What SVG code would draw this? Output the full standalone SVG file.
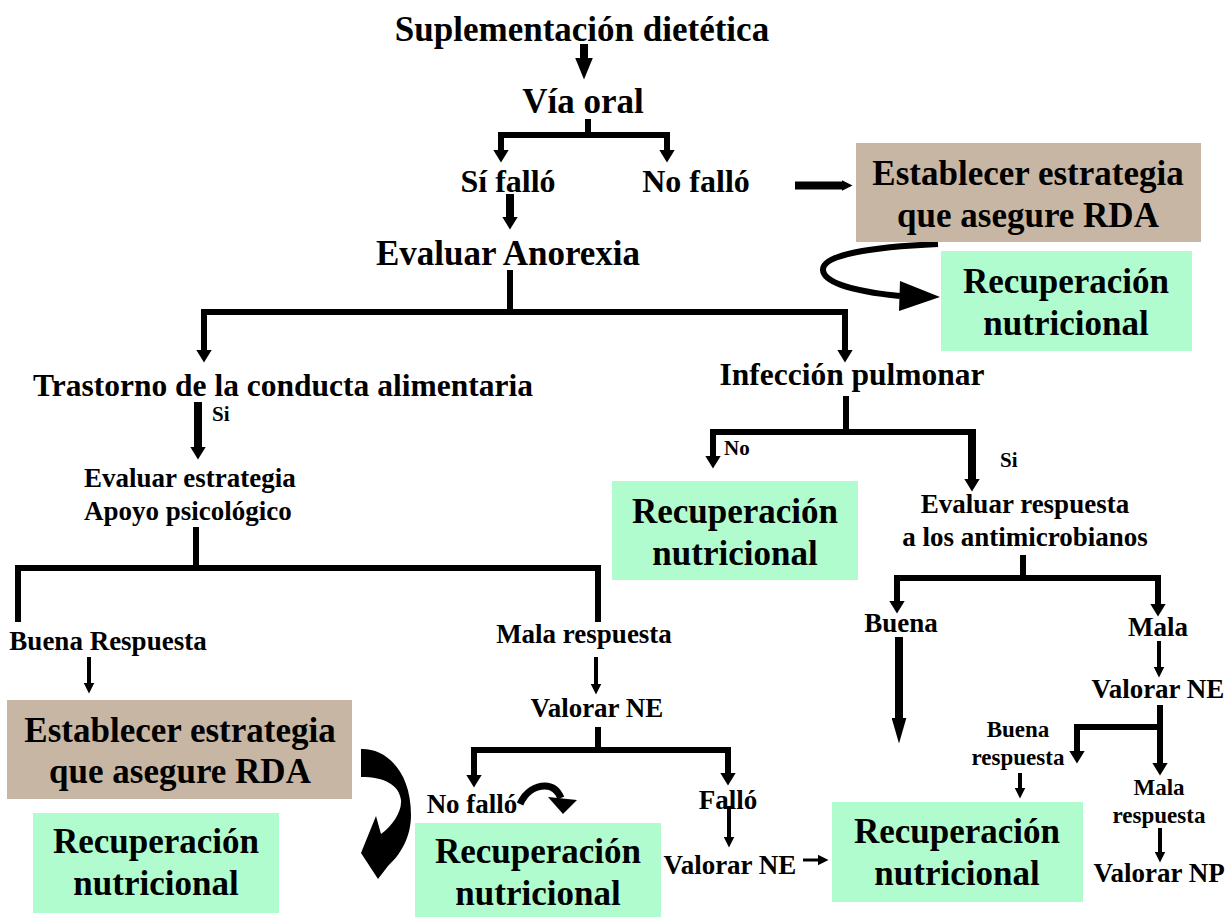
<svg xmlns="http://www.w3.org/2000/svg" width="1229" height="918" viewBox="0 0 1229 918">
<style>
text{font-family:"Liberation Serif","Times New Roman",serif;font-weight:bold;fill:#000;text-anchor:middle}
.t35{font-size:35px}.t32{font-size:32px}.t31{font-size:31.5px}.t27{font-size:27px}.t23{font-size:23px}.t21{font-size:21px}
.st{text-anchor:start}
.brown{fill:#C8B6A4}.green{fill:#B0FCCE}
.c{stroke:#000;fill:none;stroke-linecap:butt;stroke-linejoin:miter}
.w8{stroke-width:8}.w6{stroke-width:6}.w4{stroke-width:4}.w3{stroke-width:3}
</style>
<defs>
<marker id="big" markerUnits="userSpaceOnUse" markerWidth="22" markerHeight="18" refX="0.5" refY="9" orient="auto"><path d="M0,0 L22,9 L0,18 Z" fill="#000"/></marker>
<marker id="long" markerUnits="userSpaceOnUse" markerWidth="26" markerHeight="15" refX="0.5" refY="7.5" orient="auto"><path d="M0,0 L26,7.5 L0,15 Z" fill="#000"/></marker>
<marker id="med" markerUnits="userSpaceOnUse" markerWidth="13" markerHeight="16" refX="0.5" refY="8" orient="auto"><path d="M0,0 L13,8 L0,16 Z" fill="#000"/></marker>
<marker id="sm" markerUnits="userSpaceOnUse" markerWidth="11" markerHeight="11" refX="0.5" refY="5.5" orient="auto"><path d="M0,0 L11,5.5 L0,11 Z" fill="#000"/></marker>
</defs>

<g id="connectors">
<path class="c w8" d="M584,44 V58" marker-end="url(#big)"/>
<path class="c w6" d="M588,119 V135"/>
<path class="c w6" d="M501,150 V135 H667 V150" marker-end="url(#med)"/>
<path class="c w6" d="M501,138 V150" marker-end="url(#med)"/>
<path class="c w8" d="M510,194 V217" marker-end="url(#med)"/>
<path class="c w8" d="M795,185.5 H842" marker-end="url(#sm)"/>
<path class="c w6" d="M938,244 C870,247 822,255 823,270 C824,286 870,293 900,296"/>
<polygon points="900,281 940,297 899,311" fill="#000"/>
<path class="c w6" d="M510,270 V312"/>
<path class="c w6" d="M204,350 V312 H845 V350" marker-end="url(#med)"/>
<path class="c w6" d="M204,320 V350" marker-end="url(#med)"/>
<path class="c w8" d="M198,402 V447" marker-end="url(#med)"/>
<path class="c w6" d="M196,527 V568"/>
<path class="c w6" d="M18,622 V568 H598 V622"/>
<path class="c w4" d="M89,657 V683" marker-end="url(#sm)"/>
<path class="c w4" d="M596,657 V684" marker-end="url(#sm)"/>
<path class="c w6" d="M598,727 V750"/>
<path class="c w6" d="M474,775 V750 H728 V773" marker-end="url(#med)"/>
<path class="c w6" d="M474,760 V775" marker-end="url(#med)"/>
<path class="c w4" d="M729,806 V837" marker-end="url(#sm)"/>
<path class="c w3" d="M803,860 H818" marker-end="url(#sm)"/>
<path d="M361,749 C385,748 411,770 411,815 C411,838 400,855 388,866 L378,879 L361,853 L376,816 L381,834 C392,826 402,812 401,800 C399,785 385,777 361,777 Z" fill="#000"/>
<path class="c" stroke-width="7" d="M520,804 C526,791 536,786 545,786 C553,786 558,791 561,798"/>
<polygon points="548,797 577,800 563,814" fill="#000"/>
<path class="c w6" d="M846,396 V432"/>
<path class="c w6" d="M713,456 V432 H972"/>
<path class="c w6" d="M713,440 V456" marker-end="url(#med)"/>
<path class="c w8" d="M972,429 V479" marker-end="url(#med)"/>
<path class="c w6" d="M1023,555 V578"/>
<path class="c w6" d="M897,601 V578 H1158 V604" marker-end="url(#med)"/>
<path class="c w6" d="M897,590 V601" marker-end="url(#med)"/>
<path class="c w8" d="M899,637 V718" marker-end="url(#long)"/>
<path class="c w4" d="M1159,641 V667" marker-end="url(#sm)"/>
<path class="c w6" d="M1160,705 V763" marker-end="url(#med)"/>
<path class="c w6" d="M1077,751 V727 H1160"/>
<path class="c w6" d="M1077,740 V751" marker-end="url(#med)"/>
<path class="c w4" d="M1020,773 V788" marker-end="url(#sm)"/>
<path class="c w4" d="M1160,828 V852" marker-end="url(#sm)"/>
</g>

<g id="n-suplementacion"><text class="t35" x="582" y="41">Suplementación dietética</text></g>
<g id="n-via-oral"><text class="t35" x="583" y="113">Vía oral</text></g>
<g id="n-si-fallo"><text class="t32" x="508" y="192">Sí falló</text></g>
<g id="n-no-fallo"><text class="t32" x="696" y="192">No falló</text></g>
<g id="n-establecer-1"><rect class="brown" x="856" y="143" width="345" height="99"/><text class="t35" x="1028" y="185">Establecer estrategia</text><text class="t35" x="1028" y="227">que asegure RDA</text></g>
<g id="n-recuperacion-1"><rect class="green" x="941" y="251" width="251" height="100"/><text class="t35" x="1066" y="293">Recuperación</text><text class="t35" x="1066" y="335">nutricional</text></g>
<g id="n-anorexia"><text class="t35" x="508" y="265">Evaluar Anorexia</text></g>
<g id="n-trastorno"><text class="t31" x="283" y="396">Trastorno de la conducta alimentaria</text><text class="t21 st" x="212" y="421">Si</text></g>
<g id="n-evaluar-estrategia"><text class="t27 st" x="84" y="487">Evaluar estrategia</text><text class="t27 st" x="84" y="520">Apoyo psicológico</text></g>
<g id="n-buena-respuesta"><text class="t27" x="108" y="650">Buena Respuesta</text></g>
<g id="n-mala-respuesta"><text class="t27" x="584" y="643">Mala respuesta</text></g>
<g id="n-establecer-2"><rect class="brown" x="7" y="700" width="345" height="99"/><text class="t35" x="180" y="742">Establecer estrategia</text><text class="t35" x="180" y="783">que asegure RDA</text></g>
<g id="n-recuperacion-2"><rect class="green" x="33" y="813" width="246" height="100"/><text class="t35" x="156" y="853">Recuperación</text><text class="t35" x="156" y="895">nutricional</text></g>
<g id="n-valorar-ne-1"><text class="t27" x="597" y="717">Valorar NE</text></g>
<g id="n-no-fallo-2"><text class="t27" x="472" y="813">No falló</text></g>
<g id="n-fallo"><text class="t27" x="728" y="809">Falló</text></g>
<g id="n-recuperacion-3"><rect class="green" x="415" y="823" width="246" height="94"/><text class="t35" x="538" y="863">Recuperación</text><text class="t35" x="538" y="905">nutricional</text></g>
<g id="n-valorar-ne-2"><text class="t27" x="730" y="874">Valorar NE</text></g>
<g id="n-infeccion"><text class="t31" x="852" y="385">Infección pulmonar</text><text class="t21 st" x="724" y="455">No</text><text class="t21 st" x="1000" y="467">Si</text></g>
<g id="n-recuperacion-4"><rect class="green" x="612" y="481" width="246" height="99"/><text class="t35" x="735" y="523">Recuperación</text><text class="t35" x="735" y="565">nutricional</text></g>
<g id="n-evaluar-respuesta"><text class="t27" x="1025" y="513">Evaluar respuesta</text><text class="t27" x="1025" y="546">a los antimicrobianos</text></g>
<g id="n-buena"><text class="t27" x="901" y="632">Buena</text></g>
<g id="n-mala"><text class="t27" x="1158" y="636">Mala</text></g>
<g id="n-valorar-ne-3"><text class="t27" x="1158" y="698">Valorar NE</text></g>
<g id="n-buena-resp-2"><text class="t23" x="1018" y="737">Buena</text><text class="t23" x="1018" y="765">respuesta</text></g>
<g id="n-mala-resp-2"><text class="t23" x="1159" y="795">Mala</text><text class="t23" x="1159" y="823">respuesta</text></g>
<g id="n-valorar-np"><text class="t27" x="1159" y="882">Valorar NP</text></g>
<g id="n-recuperacion-5"><rect class="green" x="832" y="802" width="251" height="100"/><text class="t35" x="957" y="843">Recuperación</text><text class="t35" x="957" y="885">nutricional</text></g>
</svg>
